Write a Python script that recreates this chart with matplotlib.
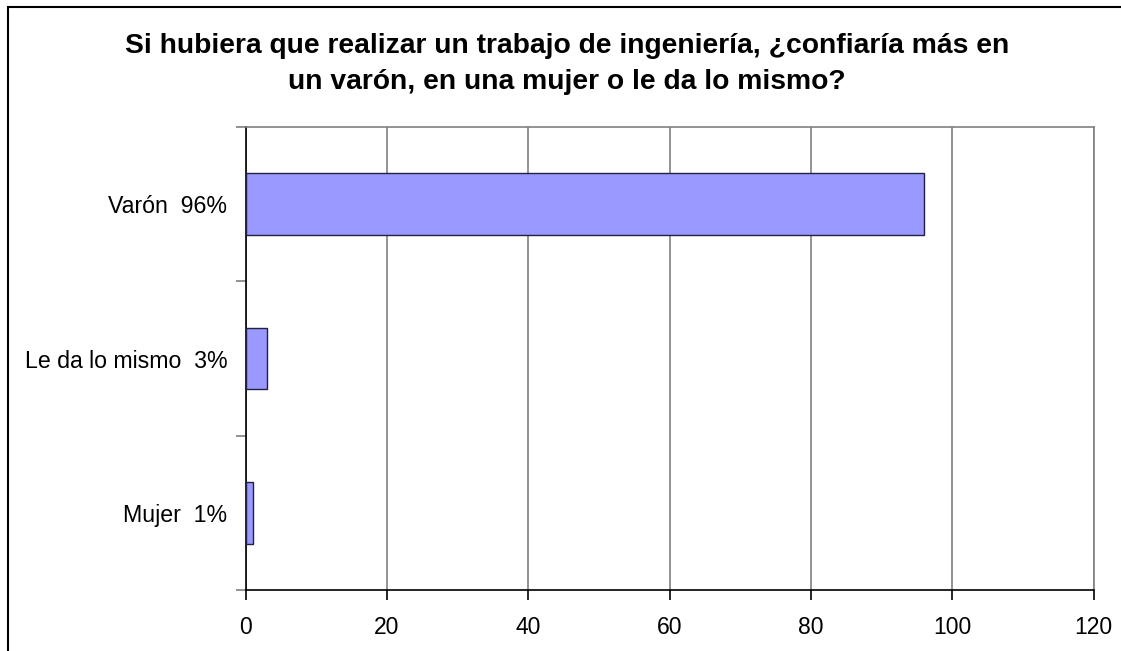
import matplotlib
matplotlib.use("Agg")
import matplotlib.pyplot as plt
from matplotlib.patches import Rectangle

# Datos de la encuesta
categorias = ["Mujer  1%", "Le da lo mismo  3%", "Varón  96%"]
valores = [1, 3, 96]
xticks = [0, 20, 40, 60, 80, 100, 120]
titulo = ("Si hubiera que realizar un trabajo de ingeniería, ¿confiaría más en\n"
          "un varón, en una mujer o le da lo mismo?")

plt.rcParams["font.family"] = ["Liberation Sans", "DejaVu Sans"]

W, H = 1121, 651
fig = plt.figure(figsize=(W / 100, H / 100), dpi=100)

# Marco exterior del gráfico (cortado a la derecha y abajo)
fig.patches.append(Rectangle((8 / W, -0.1), 1.1, 1.1 - 7 / H,
                             transform=fig.transFigure, fill=False,
                             edgecolor="black", linewidth=1.5))

left, right, top, bottom = 245.5, 1093.5, 127, 590
ax = fig.add_axes([left / W, 1 - bottom / H, (right - left) / W, (bottom - top) / H])

pos = range(len(categorias))
ax.barh(pos, valores, height=0.4, color="#9999FF", edgecolor="#202040", linewidth=1, zorder=3)

ax.set_xlim(0, 120)
ax.set_ylim(-0.5, 2.5)
ax.set_xticks(xticks)
ax.set_xticklabels([str(v) for v in xticks], fontsize=16.5)
ax.set_yticks(pos)
ax.set_yticklabels(categorias, fontsize=16.7)
ax.set_yticks([-0.5, 0.5, 1.5, 2.5], minor=True)

ax.grid(axis="x", color="#808080", linewidth=1.2, zorder=0)
ax.tick_params(axis="y", which="major", length=0, pad=13)
ax.tick_params(axis="y", which="minor", length=7, color="#808080", width=1.2)
ax.tick_params(axis="x", length=7, width=1.2, pad=12, color="black")

for s in ["top", "right"]:
    ax.spines[s].set_color("#808080")
    ax.spines[s].set_linewidth(1.2)
for s in ["left", "bottom"]:
    ax.spines[s].set_color("black")
    ax.spines[s].set_linewidth(1.2)

fig.text(567 / W, 1 - 64 / H, titulo, ha="center", va="center",
         fontsize=20.3, fontweight="bold", linespacing=1.5)

fig.savefig("out.png", dpi=100)
